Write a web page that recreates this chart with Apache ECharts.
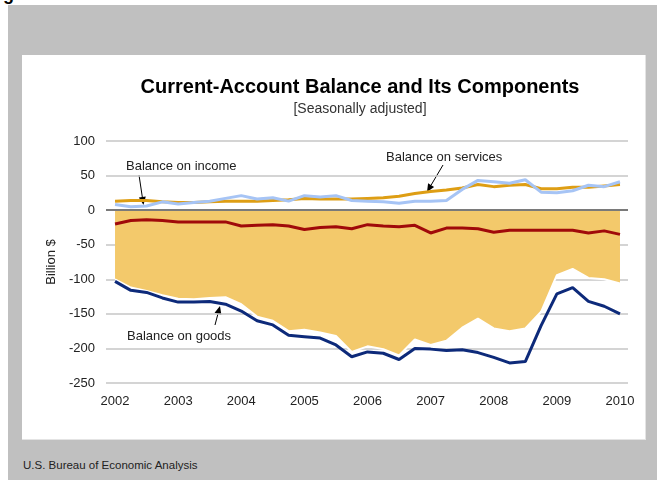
<!DOCTYPE html>
<html>
<head>
<meta charset="utf-8">
<script src="https://cdn.jsdelivr.net/npm/echarts@6/dist/echarts.min.js"></script>
<style>
  body { margin: 0; background: #fff; }
  .wrap { position: relative; width: 657px; height: 480px; overflow: hidden; }
  .frame { position: absolute; left: 8px; top: 5px; right: 0; bottom: 0; background: #c0c0c0; }
  .panel { position: absolute; left: 22px; top: 55px; width: 623px; height: 384px; background: #fff; border-right: 1px solid #e4e4e4; border-bottom: 1px solid #e4e4e4; }
  .cut { position: absolute; left: 3px; top: -16px; font: bold 18px "Liberation Sans", Arial, sans-serif; color: #000; }
  .source { position: absolute; left: 23px; top: 459px; font: 11.5px "Liberation Sans", Arial, sans-serif; color: #222; }
  #chart { position: absolute; left: 0; top: 0; width: 657px; height: 480px; }
</style>
</head>
<body>
<div class="wrap">
  <div class="frame"></div>
  <div class="panel"></div>
  <div class="cut">g</div>
  <div class="source">U.S. Bureau of Economic Analysis</div>
  <div id="chart"></div>
</div>
<script>
// 季度 2002Q1 - 2010Q1
const quarters = [
  '2002Q1', '2002Q2', '2002Q3', '2002Q4',
  '2003Q1', '2003Q2', '2003Q3', '2003Q4',
  '2004Q1', '2004Q2', '2004Q3', '2004Q4',
  '2005Q1', '2005Q2', '2005Q3', '2005Q4',
  '2006Q1', '2006Q2', '2006Q3', '2006Q4',
  '2007Q1', '2007Q2', '2007Q3', '2007Q4',
  '2008Q1', '2008Q2', '2008Q3', '2008Q4',
  '2009Q1', '2009Q2', '2009Q3', '2009Q4',
  '2010Q1'
]
const yearTicks = [2002, 2003, 2004, 2005, 2006, 2007, 2008, 2009, 2010]

// Billion $
const currentAccount = [-100, -112, -117, -123, -128, -129, -127, -126, -136, -154, -160, -175, -173, -177, -182, -205,
  -197, -201, -210, -187, -195, -189, -170, -157, -171, -175, -171, -147, -94, -85, -98, -100, -106]
const goods = [-103, -116, -119, -127, -133, -133, -132, -136, -146, -160, -166, -181, -183, -185, -195, -212,
  -205, -207, -216, -200, -201, -203, -202, -206, -213, -221, -219, -167, -121, -112, -132, -139, -150]
const services = [8, 5, 6, 12, 9, 11, 13, 17, 21, 16, 18, 13, 21, 19, 21, 14,
  13, 12, 10, 13, 13, 14, 30, 43, 41, 39, 44, 26, 25, 28, 36, 34, 41]
const income = [13, 14, 14, 12, 11, 11, 12, 13, 13, 13, 14, 15, 17, 16, 16, 16,
  17, 18, 20, 24, 27, 29, 32, 37, 34, 36, 37, 31, 31, 33, 33, 35, 37]
const transfers = [-20, -15, -14, -15, -17, -17, -17, -17, -23, -22, -21, -23, -28, -25, -24, -27,
  -21, -23, -24, -22, -33, -26, -26, -27, -32, -29, -29, -29, -29, -29, -33, -30, -35]

const font = '"Liberation Sans", Arial, sans-serif'

// 季度标签转成小数年份
function toYear(q) {
  return Number(q.slice(0, 4)) + (Number(q.slice(5)) - 1) / 4
}
function pairs(values) {
  return quarters.map((q, i) => [toYear(q), values[i]])
}

// 注释箭头
function arrow(x1, y1, x2, y2) {
  const a = Math.atan2(y2 - y1, x2 - x1)
  const len = 8, w = 3.5
  const bx = x2 - len * Math.cos(a), by = y2 - len * Math.sin(a)
  const px = -Math.sin(a) * w, py = Math.cos(a) * w
  return {
    type: 'group',
    children: [
      { type: 'line', shape: { x1: x1, y1: y1, x2: bx, y2: by }, style: { stroke: '#000', lineWidth: 1 } },
      { type: 'polygon', shape: { points: [[x2, y2], [bx + px, by + py], [bx - px, by - py]] }, style: { fill: '#000' } }
    ]
  }
}
function note(text, x, y, opts) {
  return {
    type: 'text',
    x: x,
    y: y,
    style: Object.assign({
      text: text,
      fill: '#222',
      font: '13px ' + font,
      verticalAlign: 'middle'
    }, opts || {})
  }
}

const chart = echarts.init(document.getElementById('chart'))

chart.setOption({
  animation: false,
  grid: { left: 106, right: 29, top: 141, bottom: 97 },
  xAxis: {
    type: 'value',
    min: 2001.857,
    max: 2010.127,
    axisLine: { show: false },
    axisTick: { show: false },
    splitLine: { show: false },
    axisLabel: {
      customValues: yearTicks,
      formatter: v => String(v),
      color: '#222',
      fontSize: 13,
      fontFamily: font,
      margin: 12
    }
  },
  yAxis: {
    type: 'value',
    min: -250,
    max: 100,
    interval: 50,
    name: 'Billion $',
    nameLocation: 'middle',
    nameRotate: 90,
    nameGap: 48,
    nameTextStyle: { color: '#222', fontSize: 13, fontFamily: font },
    axisLine: { show: false },
    axisTick: { show: false },
    axisLabel: { color: '#222', fontSize: 13, fontFamily: font, margin: 11 },
    splitLine: { lineStyle: { color: '#c6c6c6', width: 1.5 } }
  },
  series: [
    {
      name: 'Balance on current account',
      type: 'line',
      data: pairs(currentAccount),
      symbol: 'none',
      z: 1,
      lineStyle: { color: '#fff', width: 2 },
      areaStyle: { color: '#F3C96B', opacity: 1 },
      markLine: {
        silent: true,
        symbol: 'none',
        label: { show: false },
        lineStyle: { color: '#7a7a7a', width: 2, type: 'solid' },
        data: [{ yAxis: 0 }]
      }
    },
    {
      name: 'Balance on goods',
      type: 'line',
      data: pairs(goods),
      symbol: 'none',
      z: 3,
      lineStyle: { color: '#0D2A7A', width: 3 }
    },
    {
      name: 'Net unilateral current transfers',
      type: 'line',
      data: pairs(transfers),
      symbol: 'none',
      z: 3,
      lineStyle: { color: '#A00A0A', width: 3 }
    },
    {
      name: 'Balance on income',
      type: 'line',
      data: pairs(income),
      symbol: 'none',
      z: 3,
      lineStyle: { color: '#DE9E14', width: 3 }
    },
    {
      name: 'Balance on services',
      type: 'line',
      data: pairs(services),
      symbol: 'none',
      z: 4,
      lineStyle: { color: '#A6C4F5', width: 3 }
    }
  ],
  graphic: [
    note('Current-Account Balance and Its Components', 360, 87, { font: 'bold 20px ' + font, fill: '#000', align: 'center' }),
    note('[Seasonally adjusted]', 360, 109, { align: 'center', fill: '#333', font: '14px ' + font }),
    note('Balance on income', 126, 166),
    arrow(139, 175, 143.5, 205),
    note('Balance on services', 386, 157),
    arrow(443, 165, 427, 192),
    note('Net unilateral current transfers', 142, 247),
    arrow(323, 245, 339.5, 234),
    note('Balance on current account', 387, 262, { font: 'bold 15px ' + font, fill: '#000' }),
    note('Balance on goods', 127, 336),
    arrow(215, 325, 220, 306)
  ]
})
</script>
</body>
</html>
